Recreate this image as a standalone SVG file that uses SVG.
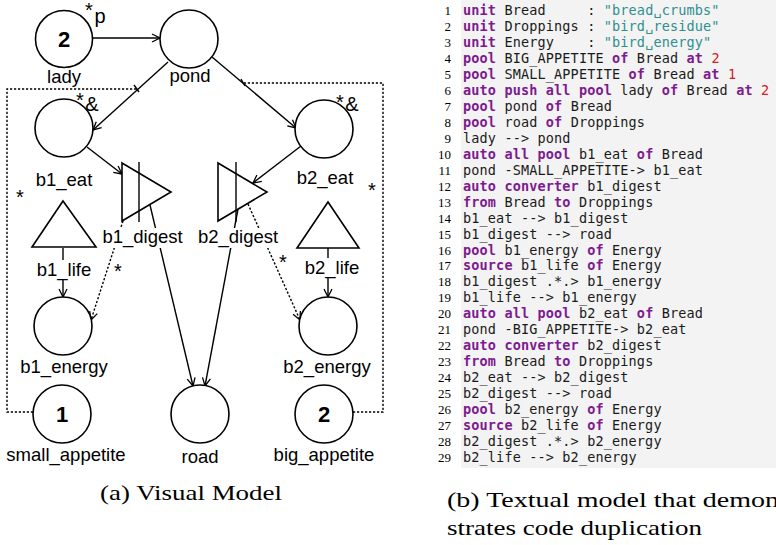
<svg xmlns="http://www.w3.org/2000/svg" width="776" height="545" viewBox="0 0 776 545">
<style>
.ln{stroke:#000;stroke-width:1.4;fill:none}
.dot{stroke:#000;stroke-width:1.4;fill:none;stroke-dasharray:2.2 1.8}
.shape{stroke:#000;stroke-width:1.6;fill:#fff}
.lbl{font-family:"Liberation Sans",Arial,sans-serif;font-size:18.5px;text-anchor:middle;fill:#000}
.num{font-family:"Liberation Sans",Arial,sans-serif;font-size:22px;font-weight:bold;text-anchor:middle}
.mark{font-family:"Liberation Sans",Arial,sans-serif;font-size:20px;text-anchor:middle}
.bg{fill:#fff}
.code{font-family:"DejaVu Sans Mono",monospace;font-size:13.5px;letter-spacing:0.15px;fill:#1a1a1a;white-space:pre}
.kw{fill:#7d1a8f;font-weight:bold}
.str{fill:#2f8f8f}
.nm{fill:#d42020}
.lno{font-family:"Liberation Serif",serif;font-size:13px;text-anchor:end;fill:#000}
.cap{font-family:"Liberation Serif",serif;font-size:22px;fill:#000}
</style>
<defs>
<marker id="arrow" viewBox="0 0 10 10" refX="9" refY="5" markerWidth="10" markerHeight="10" markerUnits="userSpaceOnUse" orient="auto">
<path d="M1,1 L9,5 L1,9" fill="none" stroke="#000" stroke-width="1.3"/>
</marker>
</defs>

<!-- connectors -->
<g id="connectors">
<line class="ln" x1="92" y1="38" x2="160" y2="38" marker-end="url(#arrow)"/>
<line class="ln" x1="168" y1="62" x2="93" y2="130" marker-end="url(#arrow)"/>
<line class="ln" x1="212" y1="57" x2="296" y2="128" marker-end="url(#arrow)"/>
<line class="ln" x1="87" y1="147" x2="122" y2="174" marker-end="url(#arrow)"/>
<line class="ln" x1="301" y1="146" x2="253" y2="183" marker-end="url(#arrow)"/>
<line class="ln" x1="150" y1="205" x2="193" y2="386" marker-end="url(#arrow)"/>
<line class="ln" x1="238" y1="209" x2="205" y2="386" marker-end="url(#arrow)"/>
<line class="dot" x1="123" y1="221" x2="91" y2="320" marker-end="url(#arrow)"/>
<line class="dot" x1="248" y1="204" x2="300" y2="320" marker-end="url(#arrow)"/>
<line class="ln" x1="63" y1="248" x2="63" y2="297" marker-end="url(#arrow)"/>
<line class="ln" x1="328" y1="248" x2="328" y2="297" marker-end="url(#arrow)"/>
<!-- appetite guards on the pond edges -->
<path class="dot" d="M33,412 L7,412 L7,89 L137,89"/>
<line class="ln" x1="134" y1="85" x2="139" y2="92"/>
<path class="dot" d="M353,412 L383,412 L383,83 L244,83"/>
<line class="ln" x1="241" y1="79" x2="245" y2="86"/>
<text class="mark" x="118" y="278">*</text>
<text class="mark" x="283" y="269">*</text>
<text class="mark" x="20" y="204">*</text>
<text class="mark" x="372" y="197">*</text>
</g>

<g id="lady">
<circle class="shape" cx="64" cy="39" r="28.5"/>
<text class="num" x="64" y="46.5">2</text>
<text class="lbl" x="64" y="83">lady</text>
<text class="mark" x="89" y="17">*</text>
<text class="mark" x="100" y="23" font-size="22">p</text>
</g>

<g id="pond">
<circle class="shape" cx="189" cy="39" r="29"/>
<text class="lbl" x="190" y="82">pond</text>
</g>

<g id="b1_eat">
<circle class="shape" cx="64" cy="128" r="29"/>
<text class="lbl" x="64" y="186">b1_eat</text>
<text class="mark" x="80" y="107">*</text>
<text class="mark" x="92" y="110.5" font-size="21">&amp;</text>
</g>

<g id="b2_eat">
<circle class="shape" cx="324" cy="129" r="29"/>
<text class="lbl" x="325" y="184">b2_eat</text>
<text class="mark" x="340" y="109">*</text>
<text class="mark" x="352" y="110.5" font-size="21">&amp;</text>
</g>

<g id="b1_digest">
<polygon class="shape" points="122,163 171,192 122,221"/>
<line class="ln" x1="139" y1="162" x2="139" y2="222"/>
<rect class="bg" x="101" y="228" width="84" height="20"/>
<text class="lbl" x="142.5" y="243">b1_digest</text>
</g>

<g id="b2_digest">
<polygon class="shape" points="218,163 267,192 218,221"/>
<line class="ln" x1="236" y1="162" x2="236" y2="222"/>
<rect class="bg" x="196" y="228" width="84" height="20"/>
<text class="lbl" x="238" y="243">b2_digest</text>
</g>

<g id="b1_life">
<polygon class="shape" points="63,201 96,247 32,247"/>
<rect class="bg" x="35" y="260" width="59" height="20"/>
<text class="lbl" x="64" y="276">b1_life</text>
</g>

<g id="b2_life">
<polygon class="shape" points="328,202 359,248 297,248"/>
<rect class="bg" x="303" y="258" width="60" height="20"/>
<text class="lbl" x="332" y="274">b2_life</text>
</g>

<g id="b1_energy">
<circle class="shape" cx="63" cy="326" r="29"/>
<text class="lbl" x="64" y="373">b1_energy</text>
</g>

<g id="b2_energy">
<circle class="shape" cx="328" cy="326" r="29"/>
<text class="lbl" x="327" y="373">b2_energy</text>
</g>

<g id="small_appetite">
<circle class="shape" cx="62" cy="414" r="29"/>
<text class="num" x="62" y="422">1</text>
<text class="lbl" x="66" y="461">small_appetite</text>
</g>

<g id="road">
<circle class="shape" cx="200" cy="414" r="29"/>
<text class="lbl" x="200" y="463">road</text>
</g>

<g id="big_appetite">
<circle class="shape" cx="324" cy="414" r="29"/>
<text class="num" x="324" y="422">2</text>
<text class="lbl" x="324" y="461">big_appetite</text>
</g>

<text class="cap" x="100" y="500" textLength="182" lengthAdjust="spacingAndGlyphs">(a) Visual Model</text>

<!-- textual model listing -->
<g id="listing">
<rect x="461" y="0" width="315" height="468" fill="#f3f3f3"/>
<g class="lno">
<text x="451" y="15.2">1</text><text x="451" y="31.2">2</text><text x="451" y="47.1">3</text><text x="451" y="63.1">4</text><text x="451" y="79">5</text><text x="451" y="95">6</text><text x="451" y="110.9">7</text><text x="451" y="126.9">8</text><text x="451" y="142.8">9</text><text x="451" y="158.8">10</text><text x="451" y="174.7">11</text><text x="451" y="190.7">12</text><text x="451" y="206.6">13</text><text x="451" y="222.6">14</text><text x="451" y="238.5">15</text><text x="451" y="254.5">16</text><text x="451" y="270.4">17</text><text x="451" y="286.4">18</text><text x="451" y="302.3">19</text><text x="451" y="318.3">20</text><text x="451" y="334.2">21</text><text x="451" y="350.2">22</text><text x="451" y="366.1">23</text><text x="451" y="382.1">24</text><text x="451" y="398">25</text><text x="451" y="414">26</text><text x="451" y="429.9">27</text><text x="451" y="445.9">28</text><text x="451" y="461.8">29</text>
</g>
<g class="code">
<text x="463" y="15.2"><tspan class="kw">unit</tspan> Bread&#160;&#160;&#160;&#160; : <tspan class="str">"bread␣crumbs"</tspan></text>
<text x="463" y="31.2"><tspan class="kw">unit</tspan> Droppings : <tspan class="str">"bird␣residue"</tspan></text>
<text x="463" y="47.1"><tspan class="kw">unit</tspan> Energy&#160;&#160;&#160; : <tspan class="str">"bird␣energy"</tspan></text>
<text x="463" y="63.1"><tspan class="kw">pool</tspan> BIG_APPETITE <tspan class="kw">of</tspan> Bread <tspan class="kw">at</tspan> <tspan class="nm">2</tspan></text>
<text x="463" y="79"><tspan class="kw">pool</tspan> SMALL_APPETITE <tspan class="kw">of</tspan> Bread <tspan class="kw">at</tspan> <tspan class="nm">1</tspan></text>
<text x="463" y="95"><tspan class="kw">auto push all pool</tspan> lady <tspan class="kw">of</tspan> Bread <tspan class="kw">at</tspan> <tspan class="nm">2</tspan></text>
<text x="463" y="110.9"><tspan class="kw">pool</tspan> pond <tspan class="kw">of</tspan> Bread</text>
<text x="463" y="126.9"><tspan class="kw">pool</tspan> road <tspan class="kw">of</tspan> Droppings</text>
<text x="463" y="142.8">lady --&gt; pond</text>
<text x="463" y="158.8"><tspan class="kw">auto all pool</tspan> b1_eat <tspan class="kw">of</tspan> Bread</text>
<text x="463" y="174.7">pond -SMALL_APPETITE-&gt; b1_eat</text>
<text x="463" y="190.7"><tspan class="kw">auto converter</tspan> b1_digest</text>
<text x="463" y="206.6"><tspan class="kw">from</tspan> Bread <tspan class="kw">to</tspan> Droppings</text>
<text x="463" y="222.6">b1_eat --&gt; b1_digest</text>
<text x="463" y="238.5">b1_digest --&gt; road</text>
<text x="463" y="254.5"><tspan class="kw">pool</tspan> b1_energy <tspan class="kw">of</tspan> Energy</text>
<text x="463" y="270.4"><tspan class="kw">source</tspan> b1_life <tspan class="kw">of</tspan> Energy</text>
<text x="463" y="286.4">b1_digest .*.&gt; b1_energy</text>
<text x="463" y="302.3">b1_life --&gt; b1_energy</text>
<text x="463" y="318.3"><tspan class="kw">auto all pool</tspan> b2_eat <tspan class="kw">of</tspan> Bread</text>
<text x="463" y="334.2">pond -BIG_APPETITE-&gt; b2_eat</text>
<text x="463" y="350.2"><tspan class="kw">auto converter</tspan> b2_digest</text>
<text x="463" y="366.1"><tspan class="kw">from</tspan> Bread <tspan class="kw">to</tspan> Droppings</text>
<text x="463" y="382.1">b2_eat --&gt; b2_digest</text>
<text x="463" y="398">b2_digest --&gt; road</text>
<text x="463" y="414"><tspan class="kw">pool</tspan> b2_energy <tspan class="kw">of</tspan> Energy</text>
<text x="463" y="429.9"><tspan class="kw">source</tspan> b2_life <tspan class="kw">of</tspan> Energy</text>
<text x="463" y="445.9">b2_digest .*.&gt; b2_energy</text>
<text x="463" y="461.8">b2_life --&gt; b2_energy</text>
</g>
</g>

<text class="cap" x="447" y="507" textLength="332" lengthAdjust="spacingAndGlyphs">(b) Textual model that demon</text>
<text class="cap" x="447" y="535" textLength="255" lengthAdjust="spacingAndGlyphs">strates code duplication</text>
</svg>
